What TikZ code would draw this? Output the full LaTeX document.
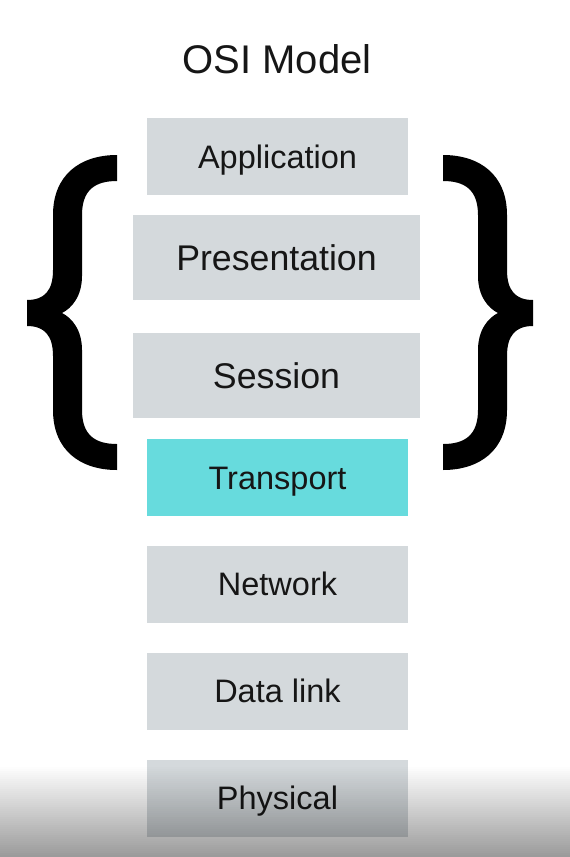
\documentclass[tikz,border=0pt]{standalone}
\usepackage{fontspec}
\setmainfont{Liberation Sans}
\usetikzlibrary{positioning}
\definecolor{layergray}{RGB}{212,217,220}
\definecolor{layercyan}{RGB}{103,219,221}
\definecolor{inkblack}{RGB}{22,22,22}
\tikzset{layer/.style={rectangle,fill=layergray,minimum width=261pt,minimum height=77pt,inner sep=0pt,text=inkblack,font=\fontsize{32.5}{36}\selectfont,text height=23pt,text depth=0pt}}
\tikzset{biglayer/.style={layer,minimum width=287pt,minimum height=85pt,font=\fontsize{35.7}{40}\selectfont,text height=25.5pt}}
\tikzset{curly/.style={fill=black,draw=none}}

\begin{document}
\begin{tikzpicture}[x=1pt,y=1pt,node distance=29.5pt]
\useasboundingbox (0,0) rectangle (570,-857);
\fill[white] (0,0) rectangle (570,-857);
\node[text=inkblack,font=\fontsize{40}{44}\selectfont,text height=29pt,text depth=0pt] (title) at (277,-59) {OSI Model};
\node[layer] (app) at (277.5,-156.5) {Application};
\node[biglayer] (pres) at (276.5,-257.5) {Presentation};
\node[biglayer] (sess) at (276.5,-375.5) {Session};
\node[layer,fill=layercyan] (trans) at (277.5,-477.5) {Transport};
\node[layer,below=of trans] (net) {Network};
\node[layer,below=of net] (data) {Data link};
\node[layer,below=of data] (phys) {Physical};
% braces round the upper layers
\foreach \sh/\sc in {0/1,560/-1} {
\begin{scope}[shift={(\sh,0)},xscale=\sc]
\fill[curly] (117,-155) .. controls (80,-155) and (53,-175) .. (53,-215) -- (53,-270)
  .. controls (53,-290) and (45,-300) .. (27,-300) -- (27,-326)
  .. controls (45,-326) and (53,-336) .. (53,-356) -- (53,-410)
  .. controls (53,-450) and (80,-470) .. (117,-470) -- (117,-444)
  .. controls (95,-444) and (82,-435) .. (82,-410) -- (82,-350)
  .. controls (82,-330) and (72,-318) .. (62,-313)
  .. controls (72,-308) and (82,-296) .. (82,-276) -- (82,-215)
  .. controls (82,-190) and (95,-181) .. (117,-181) -- cycle;
\end{scope}
}
% dark band at the foot
\foreach \i [evaluate=\i as \op using 0.0087*\i] in {0,...,46} {
	\fill[black,fill opacity=\op] (0,-765-2*\i) rectangle (570,-767-2*\i);
}
\end{tikzpicture}
\end{document}
